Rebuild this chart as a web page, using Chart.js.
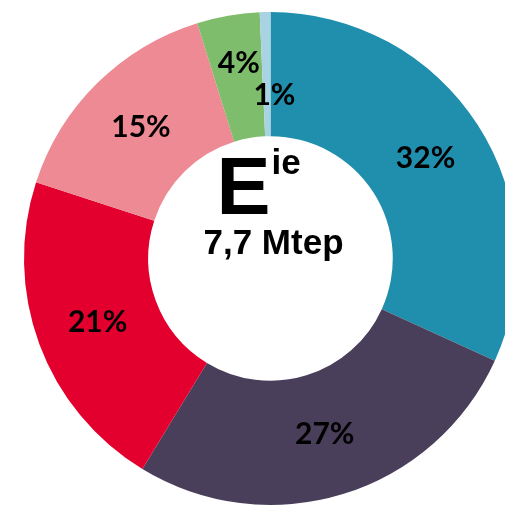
<!DOCTYPE html>
<html>
<head>
<meta charset="utf-8">
<script src="https://cdn.jsdelivr.net/npm/chart.js@4.4.0/dist/chart.umd.min.js"></script>
<style>
    html, body { margin: 0; padding: 0; background: #fff; overflow: hidden; }
    #wrap { position: absolute; left: 0; top: 0; width: 541px; height: 517px; }
</style>
</head>
<body>
<div id="wrap"><canvas id="energyChart"></canvas></div>
<script>
// Shares of final energy (7,7 Mtep), clockwise from 12 o'clock
const categories = ['A', 'B', 'C', 'D', 'E', 'F'];
const shares = [31.8, 26.9, 21.3, 15.2, 4.1, 0.7];
const shareLabels = ['32%', '27%', '21%', '15%', '4%', '1%'];
const sliceColors = ['#1f8fad', '#4a3f5b', '#e3002f', '#ee8a93', '#7dbd6b', '#a8d3e2'];
const centerTitle = 'E';
const centerSup = 'ie';
const centerValue = '7,7 Mtep';

// percentage labels sit in the middle of the ring; the two small slices get nudged apart
const labelNudge = { 4: { dx: 0, dy: -14 }, 5: { dx: 8, dy: 21 } };

const sliceLabels = {
    id: 'sliceLabels',
    afterDatasetsDraw(chart) {
        const ctx = chart.ctx;
        const arcs = chart.getDatasetMeta(0).data;
        ctx.save();
        ctx.fillStyle = '#000';
        ctx.font = 'bold 30px Lato';
        ctx.textAlign = 'center';
        ctx.textBaseline = 'middle';
        arcs.forEach((arc, i) => {
            const pos = arc.tooltipPosition();
            const n = labelNudge[i] || { dx: 0, dy: 0 };
            ctx.fillText(shareLabels[i], pos.x + n.dx, pos.y + n.dy);
        });
        ctx.restore();
    }
};

const centerText = {
    id: 'centerText',
    afterDraw(chart) {
        const ctx = chart.ctx;
        const arc = chart.getDatasetMeta(0).data[0];
        const cx = arc.x, cy = arc.y;
        ctx.save();
        ctx.fillStyle = '#000';
        ctx.textBaseline = 'alphabetic';
        ctx.textAlign = 'left';
        ctx.font = 'bold 81px "Liberation Sans"';
        ctx.fillText(centerTitle, cx - 54, cy - 45);
        ctx.font = 'bold 35px "Liberation Sans"';
        ctx.fillText(centerSup, cx + 1, cy - 85);
        ctx.textAlign = 'center';
        ctx.fillText(centerValue, cx + 3, cy - 5);
        ctx.restore();
    }
};

new Chart(document.getElementById('energyChart'), {
    type: 'doughnut',
    data: {
        labels: categories,
        datasets: [{
            data: shares,
            backgroundColor: sliceColors,
            borderWidth: 0
        }]
    },
    options: {
        responsive: true,
        maintainAspectRatio: false,
        animation: false,
        cutout: '49.6%',
        layout: { padding: 12 },
        plugins: {
            legend: { display: false },
            tooltip: { enabled: false }
        }
    },
    plugins: [sliceLabels, centerText]
});
</script>
</body>
</html>
